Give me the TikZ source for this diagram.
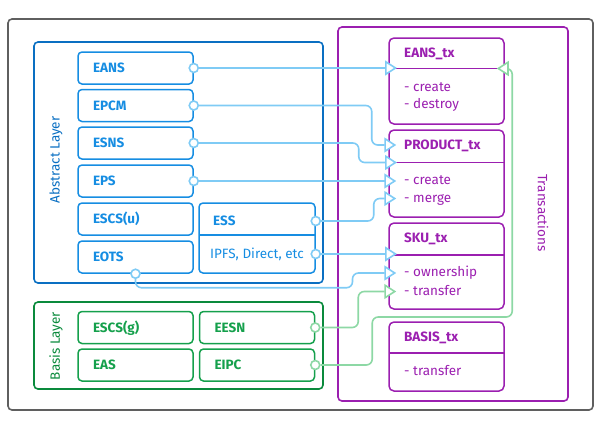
\documentclass[tikz,border=0pt]{standalone}
\usepackage{fontspec}
\setmainfont{Fira Sans}
\usepackage{xcolor}
\usepackage{tikz}
\usetikzlibrary{calc, arrows.meta, positioning}

\definecolor{frame}{HTML}{5F5F5F}
\definecolor{abmain}{HTML}{0A6FC2}
\definecolor{absub}{HTML}{168DE2}
\definecolor{abline}{HTML}{7FCBF5}
\definecolor{bamain}{HTML}{0A8A3C}
\definecolor{basub}{HTML}{15A04C}
\definecolor{baline}{HTML}{8DD8A5}
\definecolor{txmain}{HTML}{9B1FB0}

\newcommand{\labfont}{\fontsize{13.5}{16}\selectfont}

\begin{document}
\begin{tikzpicture}[x=1pt, y=-1pt, >=latex]
		\tikzstyle{layer} = [line width=1.6pt, rounded corners=4pt]
		\tikzstyle{ablock} = [draw=absub, text=absub, line width=1.5pt, rounded corners=4pt, minimum width=115pt, minimum height=32pt, text width=85pt, inner xsep=15pt, inner ysep=0pt, align=left, text height=9.3pt, text depth=0pt, font=\labfont\bfseries]
		\tikzstyle{bablock} = [ablock, draw=basub, text=basub]
		\tikzstyle{txbox} = [draw=txmain, line width=1.5pt, rounded corners=5pt, minimum width=115pt]
		\tikzstyle{txtitle} = [anchor=west, inner sep=0pt, text=txmain, text height=9.3pt, text depth=0pt, font=\labfont\bfseries]
		\tikzstyle{txitem} = [anchor=west, inner sep=0pt, text=txmain, text height=7.1pt, text depth=0pt, font=\labfont]
		\tikzstyle{abport} = [circle, draw=abline, fill=white, line width=1.6pt, minimum size=9pt, inner sep=0pt]
		\tikzstyle{baport} = [abport, draw=baline]
		\tikzstyle{abwire} = [draw=abline, line width=1.6pt, rounded corners=6pt, -{Triangle[fill=white, length=12pt, width=15pt]}, shorten >=-8pt]
		\tikzstyle{bawire} = [abwire, draw=baline]
		
		\useasboundingbox (0, 0) rectangle (602, 429);
		
		\draw[layer, draw=frame]	(8, 19) rectangle (593, 410);
		\draw[layer, draw=abmain]	(34, 42) rectangle (323, 283);
		\draw[layer, draw=bamain]	(34, 302) rectangle (323, 389);
		\draw[layer, draw=txmain]	(338, 27) rectangle (568, 401);
		
		\node[rotate=90, text=abmain, font=\labfont]	at (56, 160)	(ablabel)	{Abstract Layer};
		\node[rotate=90, text=bamain, font=\labfont]	at (56, 346)	(balabel)	{Basis Layer};
		\node[rotate=-90, text=txmain, font=\labfont]	at (543, 213)	(txlabel)	{Transactions};
		
		\node[ablock]	at (135.5, 68)		(eans)	{EANS};
		\node[ablock]	at (135.5, 105.5)	(epcm)	{EPCM};
		\node[ablock]	at (135.5, 143)		(esns)	{ESNS};
		\node[ablock]	at (135.5, 181)		(eps)	{EPS};
		\node[ablock]	at (135.5, 219)		(escsu)	{ESCS(u)};
		\node[ablock]	at (135.5, 257)		(eots)	{EOTS};
		
		\node[ablock, minimum width=116pt, minimum height=70pt]	at (257, 238)	(ess)	{};
		\draw[absub, line width=1.5pt] (199, 235) -- (315, 235);
		\node[txtitle, text=absub]	at (213, 221)	(esstitle)	{ESS};
		\node[font=\labfont, text=absub, inner sep=0pt, text height=9.3pt, text depth=0pt]	at (257, 254)	(ipfs)	{IPFS, Direct, etc};
		
		\node[bablock]	at (135.5, 327.5)	(escsg)	{ESCS(g)};
		\node[bablock]	at (135.5, 365)		(eas)	{EAS};
		\node[bablock]	at (257, 327.5)		(eesn)	{EESN};
		\node[bablock]	at (257, 365)		(eipc)	{EIPC};
		
		\node[txbox, minimum height=86pt]	at (446.5, 81)		(eanstx)	{};
		\node[txbox, minimum height=87pt]	at (446.5, 173.5)	(prodtx)	{};
		\node[txbox, minimum height=86pt]	at (446.5, 266)		(skutx)		{};
		\node[txbox, minimum height=69pt]	at (446.5, 356.5)	(basistx)	{};
		
		\coordinate (eansdiv)	at (389, 68.5);
		\coordinate (proddiv)	at (389, 162.5);
		\coordinate (skudiv)	at (389, 255);
		\coordinate (basisdiv)	at (389, 353);
		\foreach \d in {eansdiv, proddiv, skudiv, basisdiv}
			\draw[txmain, line width=1.5pt] (\d) -- ++(115, 0);
		
		\node[txtitle]	at (404, 53)	(eanstitle)		{EANS\_tx};
		\node[txitem]	at (404, 88)	(eanscreate)	{- create};
		\node[txitem]	at (404, 105)	(eansdestroy)	{- destroy};
		
		\node[txtitle]	at (404, 145)	(prodtitle)		{PRODUCT\_tx};
		\node[txitem]	at (404, 181)	(prodcreate)	{- create};
		\node[txitem]	at (404, 198.5)	(prodmerge)		{- merge};
		
		\node[txtitle]	at (404, 238)	(skutitle)		{SKU\_tx};
		\node[txitem]	at (404, 273)	(skuown)		{- ownership};
		\node[txitem]	at (404, 291.5)	(skutrans)		{- transfer};
		
		\node[txtitle]	at (404, 337)	(basistitle)	{BASIS\_tx};
		\node[txitem]	at (404, 372)	(basistrans)	{- transfer};
		
		\node[abport]	at (eans.east)				(peans)		{};
		\node[abport]	at (epcm.east)				(pepcm)		{};
		\node[abport]	at (esns.east)				(pesns)		{};
		\node[abport]	at (eps.east)				(peps)		{};
		\node[abport]	at (ess.east |- esstitle)	(pess)		{};
		\node[abport]	at (ess.east |- ipfs)		(pipfs)		{};
		\node[abport]	at (eots.south)				(peots)		{};
		\node[baport]	at (eesn.east)				(peesn)		{};
		\node[baport]	at (eipc.east)				(peipc)		{};
		
		\draw [abwire] (peans) -- (peans -| eansdiv);
		\draw [abwire] (pepcm) -- ++(178, 0) |- (prodtx.west |- prodtitle);
		\draw [abwire] (pesns) -- ++(165, 0) |- (proddiv);
		\draw [abwire] (peps) -- (peps -| prodtx.west);
		\draw [abwire] (pess) -- ++(58, 0) |- (prodtx.west |- prodmerge);
		\draw [abwire] (pipfs) -- (pipfs -| skudiv);
		\draw [abwire] (peots) -- ++(0, 14) -- ++(217, 0) |- (skutx.west |- skuown);
		
		\draw [bawire] (peesn) -- ++(43, 0) |- (skutx.west |- skutrans);
		\draw [bawire] (peipc) -- ++(57, 0) |- ++(140, -48) |- (eanstx.east |- eansdiv);
	\end{tikzpicture}
\end{document}
